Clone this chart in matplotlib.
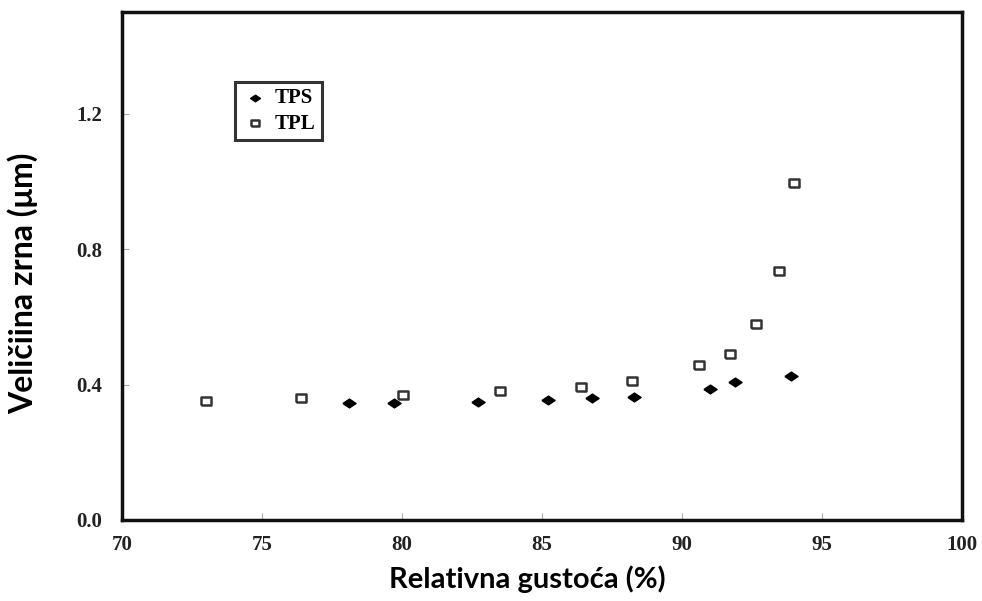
import matplotlib
matplotlib.use("Agg")
import matplotlib.pyplot as plt

# TPS (filled diamonds)
tps_x = [78.1, 79.7, 82.7, 85.2, 86.8, 88.3, 91.0, 91.9, 93.9]
tps_y = [0.345, 0.346, 0.347, 0.353, 0.359, 0.364, 0.388, 0.406, 0.426]

# TPL (open squares)
tpl_x = [73.0, 76.4, 80.05, 83.5, 86.4, 88.2, 90.6, 91.7, 92.65, 93.45, 94.0]
tpl_y = [0.350, 0.360, 0.370, 0.380, 0.392, 0.410, 0.459, 0.489, 0.578, 0.736, 0.995]

x_ticks = [70, 75, 80, 85, 90, 95, 100]
y_ticks = [0.0, 0.4, 0.8, 1.2]

# the original image is a bit stretched sideways, so the markers are too
diamond = [(-1.5, 0), (0, 1), (1.5, 0), (0, -1), (-1.5, 0)]
rect = [(-1.35, -1), (1.35, -1), (1.35, 1), (-1.35, 1), (-1.35, -1)]

fig = plt.figure(figsize=(9.82, 6.01), dpi=100)
ax = fig.add_axes([0.1242, 0.1348, 0.8554, 0.8452])

ax.scatter(tps_x, tps_y, marker=diamond, s=90, color="black", label="TPS", zorder=3)
ax.scatter(tpl_x, tpl_y, marker=rect, s=60, facecolor="white",
           edgecolor="#333333", linewidths=1.8, label="TPL", zorder=3)

ax.set_xlim(70, 100)
ax.set_ylim(0, 1.5)
ax.set_xticks(x_ticks)
ax.set_yticks(y_ticks)
ax.set_yticklabels(["%.1f" % v for v in y_ticks])

for s in ax.spines.values():
    s.set_linewidth(2.5)
    s.set_color("#111111")

ax.tick_params(direction="in", length=5, width=0.8, color="#aaaaaa", labelsize=15)
ax.tick_params(axis="x", pad=11)
ax.tick_params(axis="y", pad=14)
for lab in ax.get_xticklabels() + ax.get_yticklabels():
    lab.set_family("Liberation Serif")
    lab.set_fontweight("bold")
    lab.set_color("#222222")

ax.set_xlabel("Relativna gustoća (%)", family="Lato", fontweight="bold", fontsize=21)
ax.set_ylabel("Veličiina zrna (μm)", family="Lato", fontweight="bold", fontsize=23)
ax.xaxis.set_label_coords(0.483, -0.09)
ax.yaxis.set_label_coords(-0.1, 0.465)

leg = ax.legend(loc="upper left", bbox_to_anchor=(0.1345, 0.862),
                prop={"family": "Liberation Serif", "weight": "bold", "size": 15},
                frameon=True, fancybox=False, edgecolor="black",
                handletextpad=0.3, borderpad=0.3, labelspacing=0.25,
                markerscale=0.75, handlelength=1.3, borderaxespad=0)
leg.get_frame().set_linewidth(2.2)

fig.savefig("out.png", dpi=100)
